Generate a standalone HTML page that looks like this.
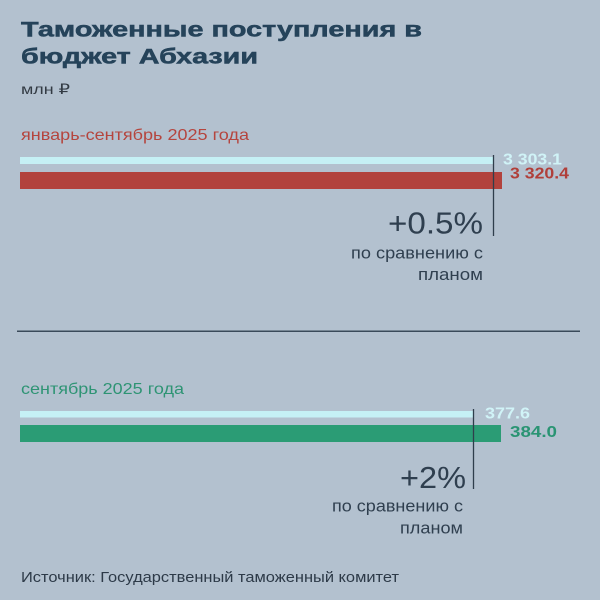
<!DOCTYPE html>
<html>
<head>
<meta charset="utf-8">
<style>
  html,body{margin:0;padding:0;background:#b3c1cf;}
  svg{display:block;}
  text{font-family:"Liberation Sans","DejaVu Sans",sans-serif;}
</style>
</head>
<body>
<svg width="600" height="600" viewBox="0 0 600 600" xmlns="http://www.w3.org/2000/svg">
  <rect x="0" y="0" width="600" height="600" fill="#b3c1cf"/>

  <!-- Title -->
  <text x="21" y="36.5" font-size="21" font-weight="bold" fill="#25435a" stroke="#25435a" stroke-width="0.5" textLength="401" lengthAdjust="spacingAndGlyphs">Таможенные поступления в</text>
  <text x="21" y="63.5" font-size="21" font-weight="bold" fill="#25435a" stroke="#25435a" stroke-width="0.5" textLength="237" lengthAdjust="spacingAndGlyphs">бюджет Абхазии</text>
  <text x="21" y="94" font-size="14" fill="#333b44" textLength="49" lengthAdjust="spacingAndGlyphs">млн ₽</text>

  <!-- Block 1 -->
  <text x="21" y="140" font-size="16" fill="#b5453e" textLength="228" lengthAdjust="spacingAndGlyphs">январь-сентябрь 2025 года</text>
  <rect x="20" y="157" width="473" height="7" fill="#c5f0f5"/>
  <rect x="20" y="172" width="482" height="17" fill="#b2423d"/>
  <line x1="493.5" y1="155" x2="493.5" y2="236" stroke="#2f3e4c" stroke-width="1.3"/>
  <text x="503" y="164.5" font-size="16" font-weight="bold" fill="#d0f3f7" textLength="59" lengthAdjust="spacingAndGlyphs">3 303.1</text>
  <text x="510" y="178.5" font-size="16" font-weight="bold" fill="#b03f3a" textLength="59" lengthAdjust="spacingAndGlyphs">3 320.4</text>
  <text x="483" y="233.5" font-size="31" fill="#2f3f4f" text-anchor="end" textLength="95" lengthAdjust="spacingAndGlyphs">+0.5%</text>
  <text x="483" y="258.5" font-size="16.5" fill="#2f3f4f" text-anchor="end" textLength="132" lengthAdjust="spacingAndGlyphs">по сравнению с</text>
  <text x="483" y="280" font-size="16.5" fill="#2f3f4f" text-anchor="end" textLength="65" lengthAdjust="spacingAndGlyphs">планом</text>

  <!-- Divider -->
  <line x1="17" y1="331.3" x2="580" y2="331.3" stroke="#3a4a5a" stroke-width="1.5"/>

  <!-- Block 2 -->
  <text x="21" y="394" font-size="16" fill="#2e9474" textLength="163" lengthAdjust="spacingAndGlyphs">сентябрь 2025 года</text>
  <rect x="20" y="411" width="453" height="6.5" fill="#c5f0f5"/>
  <rect x="20" y="425" width="481" height="17" fill="#2b9c75"/>
  <line x1="473.5" y1="409" x2="473.5" y2="489" stroke="#2f3e4c" stroke-width="1.3"/>
  <text x="485" y="418.5" font-size="16" font-weight="bold" fill="#d0f3f7" textLength="45" lengthAdjust="spacingAndGlyphs">377.6</text>
  <text x="510" y="437" font-size="16" font-weight="bold" fill="#2a9473" textLength="47" lengthAdjust="spacingAndGlyphs">384.0</text>
  <text x="466" y="488" font-size="31" fill="#2f3f4f" text-anchor="end" textLength="66" lengthAdjust="spacingAndGlyphs">+2%</text>
  <text x="463" y="511.5" font-size="16.5" fill="#2f3f4f" text-anchor="end" textLength="131" lengthAdjust="spacingAndGlyphs">по сравнению с</text>
  <text x="463" y="533.5" font-size="16.5" fill="#2f3f4f" text-anchor="end" textLength="63" lengthAdjust="spacingAndGlyphs">планом</text>

  <!-- Footer -->
  <text x="21" y="582" font-size="15" fill="#2d3a48" textLength="378" lengthAdjust="spacingAndGlyphs">Источник: Государственный таможенный комитет</text>
</svg>
</body>
</html>
